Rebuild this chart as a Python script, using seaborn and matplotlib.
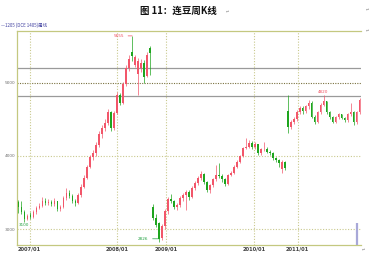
import numpy as np
import pandas as pd
import matplotlib
matplotlib.use("Agg")
import matplotlib.pyplot as plt
import seaborn as sns

# ---- data (weekly candles, index-based x) ----
open_ = [3370, 3300, 3230, 3140, 3190, 3160, 3230, 3290, 3320, 3390, 3360, 3370, 3340, 3380, 3270,
         3300, 3420, 3500, 3450, 3380, 3350, 3460, 3580, 3700, 3850, 3980, 4040, 4150, 4300, 4380,
         4450, 4600, 4380, 4590, 4830, 4730, 4990, 5200, 5420, 5250, 5120, 5200, 5280, 5100, 5480,
         3300, 3150, 3080, 2880, 3040, 3240, 3410, 3380, 3300, 3330, 3430, 3470, 3510, 3440, 3560,
         3630, 3700, 3750, 3640, 3540, 3600, 3680, 3740, 3720, 3680, 3610, 3740, 3770, 3850, 3920,
         4000, 4110, 4130, 4180, 4120, 4160, 4040, 4090, 4100, 4060, 4040, 3970, 3940, 3820, 3920,
         4620, 4400, 4470, 4500, 4600, 4660, 4610, 4680, 4730, 4540, 4470, 4600, 4700, 4750, 4600,
         4530, 4470, 4530, 4570, 4520, 4490, 4570, 4600, 4460, 4600]
high = [3400, 3380, 3260, 3210, 3230, 3260, 3310, 3350, 3440, 3420, 3410, 3400, 3420, 3390, 3330,
        3450, 3560, 3540, 3480, 3410, 3490, 3610, 3740, 3880, 4010, 4080, 4190, 4340, 4420, 4500,
        4640, 4620, 4620, 4870, 4860, 5020, 5240, 5380, 5645, 5390, 5340, 5330, 5310, 5420, 5500,
        3340, 3200, 3100, 3070, 3270, 3440, 3480, 3400, 3360, 3450, 3500, 3540, 3530, 3590, 3660,
        3720, 3800, 3770, 3660, 3620, 3700, 3880, 3900, 3750, 3700, 3760, 3800, 3870, 3940, 4020,
        4130, 4245, 4220, 4200, 4190, 4170, 4110, 4190, 4120, 4080, 4060, 3990, 3960, 3950, 3930,
        4836, 4490, 4530, 4630, 4690, 4680, 4700, 4770, 4750, 4560, 4620, 4720, 4836, 4760, 4620,
        4550, 4550, 4590, 4580, 4540, 4590, 4720, 4610, 4620, 4790]
low = [3220, 3200, 3100, 3120, 3140, 3150, 3210, 3270, 3300, 3330, 3330, 3310, 3320, 3250, 3250,
       3290, 3400, 3420, 3360, 3320, 3340, 3440, 3560, 3680, 3830, 3950, 4000, 4120, 4250, 4340,
       4420, 4340, 4360, 4570, 4700, 4710, 4960, 5160, 5300, 5220, 4840, 5150, 5000, 5080, 5110,
       3120, 3030, 2826, 2850, 3000, 3200, 3360, 3280, 3260, 3300, 3380, 3260, 3400, 3420, 3530,
       3600, 3670, 3620, 3510, 3500, 3580, 3660, 3700, 3650, 3590, 3600, 3720, 3750, 3830, 3900,
       3980, 4090, 4110, 4090, 4100, 4010, 4020, 4070, 4040, 4010, 3950, 3920, 3850, 3770, 3810,
       4320, 4370, 4440, 4480, 4570, 4580, 4590, 4650, 4520, 4440, 4450, 4580, 4680, 4580, 4510,
       4450, 4450, 4510, 4500, 4470, 4470, 4550, 4430, 4440, 4580]
close = [3300, 3230, 3140, 3180, 3160, 3230, 3290, 3320, 3390, 3360, 3370, 3340, 3380, 3270, 3300,
         3420, 3500, 3450, 3380, 3350, 3460, 3580, 3700, 3850, 3980, 4040, 4150, 4300, 4380, 4450,
         4600, 4380, 4590, 4830, 4730, 4990, 5200, 5330, 5370, 5350, 5300, 5280, 5080, 5380, 5410,
         3150, 3060, 2860, 3040, 3240, 3410, 3380, 3300, 3330, 3430, 3470, 3510, 3440, 3560, 3630,
         3700, 3750, 3640, 3540, 3600, 3680, 3740, 3720, 3680, 3610, 3740, 3770, 3850, 3920, 4000,
         4110, 4130, 4180, 4120, 4160, 4040, 4090, 4100, 4060, 4040, 3970, 3940, 3900, 3920, 3830,
         4400, 4470, 4500, 4600, 4660, 4610, 4680, 4730, 4540, 4470, 4600, 4700, 4750, 4600, 4530,
         4470, 4530, 4570, 4520, 4490, 4570, 4600, 4460, 4600, 4770]

tick_pos = [3.7, 33.0, 49.3, 78.7, 93.3]
tick_labels = ["2007/01", "2008/01", "2009/01", "2010/01", "2011/01"]
y_ticks = [3000, 4000, 5000]
solid_levels = [5200, 4820]
dotted_levels = [3000, 4000]
dark_level = 5000
signal_idx = [79, 80, 81, 84, 88, 90, 91, 93, 98, 99, 100, 102, 103, 106]
signal_val = 2815
cursor_idx = 113.3
cursor_top = 3080
ylim = (2781, 5712)

df = pd.DataFrame({"open": open_, "high": high, "low": low, "close": close})
df["i"] = np.arange(len(df))
df["up"] = df["close"] >= df["open"]

RED = "#f2566a"
GREEN = "#1ea51e"

sns.set_theme(style="white")
plt.rcParams["font.family"] = ["DejaVu Sans", "Noto Sans CJK SC"]

fig = plt.figure(figsize=(3.76, 2.56), dpi=100)
ax = fig.add_axes([17 / 376, 11 / 256, 344 / 376, 214 / 256])

# grid / reference lines
for lv in dotted_levels:
    ax.axhline(lv, color="#c9c98e", lw=0.8, ls=(0, (1, 1.5)), zorder=1)
ax.axhline(dark_level, color="#7a7240", lw=0.8, ls=(0, (1, 1.2)), zorder=1)
for lv in solid_levels:
    ax.axhline(lv, color="#9a9a9a", lw=0.9, zorder=1)
for tp in tick_pos:
    ax.axvline(tp, color="#c9c98e", lw=0.8, ls=(0, (1, 1.5)), zorder=1)

# candles
colors = np.where(df["up"], RED, GREEN)
ax.vlines(df["i"], df["low"], df["high"], colors=colors, lw=0.5, zorder=3)
body_lo = np.minimum(df["open"], df["close"])
body_h = np.maximum(np.abs(df["close"] - df["open"]), 12)
ax.bar(df["i"], body_h, bottom=body_lo, width=0.55, color=colors, lw=0, zorder=4)

# signal markers and cursor bar
sig = pd.DataFrame({"i": signal_idx, "v": [signal_val] * len(signal_idx)})
sns.scatterplot(data=sig, x="i", y="v", ax=ax, marker="s", s=0.45, color="#4040c8",
                linewidth=0, zorder=5, legend=False)
ax.vlines(cursor_idx, ylim[0], cursor_top, colors="#a8a8d8", lw=1.6, zorder=5)

# annotations
pk = int(df["high"].idxmax())
ax.annotate("5655", xy=(pk, df["high"][pk]), xytext=(pk - 2.7, df["high"][pk]),
            fontsize=3.0, color="#f05060", ha="right", va="center",
            arrowprops=dict(arrowstyle="-", color="#f05060", lw=0.5, shrinkA=0.5, shrinkB=0))
lo_i = int(df["low"].idxmin())
ax.annotate("2826", xy=(lo_i, df["low"][lo_i] + 40), xytext=(lo_i - 3.5, df["low"][lo_i] + 40),
            fontsize=3.0, color="#20a040", ha="right", va="center",
            arrowprops=dict(arrowstyle="-", color="#20a040", lw=0.5, shrinkA=0.5, shrinkB=0))
ax.text(1.7, 3085, "3100", fontsize=3.0, color="#20a040", ha="center", va="top")
ax.text(101.7, 4850, "4820", fontsize=3.0, color="#f05060", ha="center", va="bottom")

# axes styling
ax.set_xlim(-0.5, 114.5)
ax.set_ylim(*ylim)
ax.set_xticks(tick_pos)
ax.set_xticklabels(tick_labels, fontsize=3.7, fontweight="bold", color="#404040")
ax.set_yticks(y_ticks)
ax.set_yticklabels([str(v) for v in y_ticks], fontsize=3.1, color="#707070")
ax.tick_params(axis="both", length=0, pad=1.0)
ax.set_xlabel("")
ax.set_ylabel("")
for s in ["top", "left", "bottom"]:
    ax.spines[s].set_color("#c4c880")
    ax.spines[s].set_linewidth(0.9)
ax.spines["right"].set_visible(False)
ax.set_facecolor("white")

# texts outside
fig.text(178 / 376, 1 - 11 / 256, "图 11：连豆周K线", fontsize=6.8, fontweight="bold",
         ha="center", va="center", family=["Noto Sans CJK SC", "DejaVu Sans"], color="#111111")
fig.text(226 / 376, 1 - 12 / 256, "↵", fontsize=3, color="#888888", ha="left", va="center")
fig.text(1 / 376, 1 - 25.5 / 256, "—1205 (DCE 1405)周线", fontsize=3.2, color="#4040a0",
         ha="left", va="center", family=["Noto Sans CJK SC", "DejaVu Sans"])
fig.text(366 / 376, 1 - 10 / 256, "↵", fontsize=3, color="#888888", ha="left", va="center")
fig.text(366 / 376, 1 - 31 / 256, "↵", fontsize=3, color="#888888", ha="left", va="center")
fig.text(362 / 376, 1 - 250 / 256, "↵", fontsize=3, color="#888888", ha="left", va="center")

fig.savefig("out.png", dpi=100)
